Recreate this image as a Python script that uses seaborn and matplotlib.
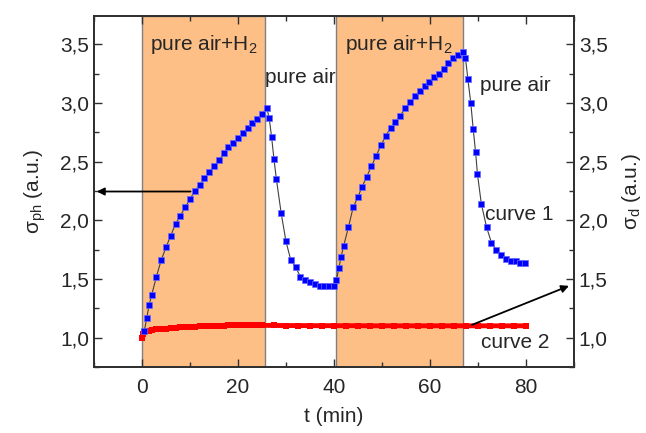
import matplotlib
matplotlib.use('Agg')
import matplotlib.pyplot as plt
import seaborn as sns
import pandas as pd
from matplotlib.ticker import MultipleLocator, FuncFormatter

# photoconductivity (curve 1)
t_ph = [0.5, 1, 1.5, 2, 3, 4, 5, 6, 7, 8, 9, 10, 11, 12, 13, 14, 15, 16, 17, 18,
        19, 20, 21, 22, 23, 24, 25, 26, 26.5, 27, 27.5, 28, 29, 30, 31, 32, 33, 34,
        35, 36, 37, 38, 39, 40, 40.5, 41, 41.5, 42, 43, 44, 45, 45.8, 46.8, 47.8,
        48.8, 49.8, 50.8, 51.8, 52.8, 53.8, 54.9, 55.9, 56.9, 57.9, 58.9, 59.9,
        60.9, 61.9, 62.9, 63.8, 64.9, 65.8, 66.8, 67.4, 67.9, 68.5, 69.0, 69.5,
        69.9, 70.7, 71.8, 72.8, 73.8, 74.9, 75.9, 76.9, 77.9, 78.8, 79.8]
s_ph = [1.06, 1.17, 1.28, 1.36, 1.52, 1.66, 1.77, 1.87, 1.97, 2.04, 2.11, 2.18,
        2.25, 2.30, 2.36, 2.41, 2.46, 2.51, 2.57, 2.62, 2.66, 2.70, 2.74, 2.79,
        2.83, 2.86, 2.905, 2.96, 2.87, 2.71, 2.52, 2.35, 2.06, 1.82, 1.66, 1.60,
        1.52, 1.49, 1.47, 1.46, 1.44, 1.44, 1.44, 1.44, 1.49, 1.59, 1.69, 1.78,
        1.94, 2.11, 2.20, 2.28, 2.37, 2.46, 2.55, 2.64, 2.72, 2.79, 2.84, 2.89,
        2.96, 3.01, 3.06, 3.10, 3.14, 3.18, 3.22, 3.25, 3.29, 3.34, 3.38, 3.41,
        3.43, 3.38, 3.20, 3.00, 2.78, 2.58, 2.39, 2.14, 1.94, 1.81, 1.75, 1.70,
        1.67, 1.65, 1.65, 1.635, 1.635]

# dark conductivity (curve 2)
t_d = [0, 0.25, 0.5, 1, 1.5, 2, 3, 4, 5, 6, 7, 8, 9, 10, 11, 12, 13, 14, 15, 16,
       17, 18, 19, 20, 21, 22, 23, 24, 25, 27.5, 30, 32.5, 35, 37.5, 40, 42.5,
       45, 47.5, 50, 52.5, 55, 57.5, 60, 62.5, 65, 67.5, 70, 72.5, 75, 77.5, 80]
s_d = [1.00, 1.03, 1.045, 1.055, 1.06, 1.065, 1.07, 1.075, 1.078, 1.082, 1.085,
       1.088, 1.09, 1.092, 1.094, 1.096, 1.098, 1.10, 1.101, 1.102, 1.103, 1.104,
       1.105, 1.106, 1.107, 1.107, 1.106, 1.106, 1.105, 1.104, 1.103, 1.103,
       1.102, 1.102, 1.102, 1.102, 1.102, 1.101, 1.101, 1.101, 1.101, 1.101,
       1.101, 1.101, 1.101, 1.101, 1.101, 1.101, 1.101, 1.101, 1.101]

# hydrogen exposure intervals (min)
h2_start = [0, 40.5]
h2_end = [25.7, 66.9]

df_ph = pd.DataFrame({'t': t_ph, 's': s_ph})
df_d = pd.DataFrame({'t': t_d, 's': s_d})

sns.set_style('ticks')
plt.rcParams['font.family'] = ['Liberation Sans', 'DejaVu Sans']
plt.rcParams['mathtext.fontset'] = 'custom'
plt.rcParams['mathtext.rm'] = 'Liberation Sans'
plt.rcParams['mathtext.it'] = 'Liberation Sans:italic'
plt.rcParams['axes.edgecolor'] = '#303030'
plt.rcParams['axes.linewidth'] = 1.3

FS = 15

fig = plt.figure(figsize=(6.46, 4.33), dpi=100)
ax = fig.add_axes([0.1455, 0.1524, 0.743, 0.8106])

for a, b in zip(h2_start, h2_end):
    ax.axvspan(a, b, facecolor='#fdbf86', edgecolor='#808080', lw=1.0, zorder=0)

sns.lineplot(data=df_d, x='t', y='s', ax=ax, color='red', lw=3.5, marker='s',
             markersize=4, markeredgewidth=0, sort=False, zorder=3)
sns.lineplot(data=df_ph, x='t', y='s', ax=ax, color='#404040', lw=0.8, marker='s',
             markersize=4.2, markerfacecolor='blue', markeredgecolor='#6a6aff',
             markeredgewidth=0.5, sort=False, zorder=4)

ax.set_xlim(-10, 90)
ax.set_ylim(0.75, 3.74)
fmt = FuncFormatter(lambda v, p: ('%.1f' % v).replace('.', ','))
ax.xaxis.set_major_locator(MultipleLocator(20))
ax.xaxis.set_minor_locator(MultipleLocator(10))
ax.yaxis.set_major_locator(MultipleLocator(0.5))
ax.yaxis.set_minor_locator(MultipleLocator(0.25))
ax.yaxis.set_major_formatter(fmt)
ax.tick_params(which='both', direction='in', top=True, labelsize=FS,
               color='#303030', width=1.0)
ax.tick_params(which='major', length=6)
ax.tick_params(which='minor', length=3.5)
ax.tick_params(axis='x', pad=8)
ax.set_xlabel('t (min)', fontsize=FS, labelpad=7)
ax.set_ylabel(r'σ$_{\mathrm{ph}}$ (a.u.)', fontsize=FS, labelpad=9)

ax2 = ax.twinx()
ax2.set_ylim(ax.get_ylim())
ax2.yaxis.set_major_locator(MultipleLocator(0.5))
ax2.yaxis.set_minor_locator(MultipleLocator(0.25))
ax2.yaxis.set_major_formatter(fmt)
ax2.tick_params(which='both', direction='in', labelsize=FS, color='#303030', width=1.0)
ax2.tick_params(which='major', length=6)
ax2.tick_params(which='minor', length=3.5)
ax2.set_ylabel(r'σ$_{\mathrm{d}}$ (a.u.)', fontsize=FS, labelpad=9)

ax.text(12.8, 3.5, r'pure air+H$_2$', fontsize=FS, ha='center', va='center')
ax.text(53.6, 3.5, r'pure air+H$_2$', fontsize=FS, ha='center', va='center')
ax.text(32.9, 3.22, 'pure air', fontsize=FS, ha='center', va='center')
ax.text(77.8, 3.15, 'pure air', fontsize=FS, ha='center', va='center')
ax.text(78.6, 2.05, 'curve 1', fontsize=FS, ha='center', va='center')
ax.text(77.8, 0.96, 'curve 2', fontsize=FS, ha='center', va='center')

arrow = dict(arrowstyle='-|>', color='black', lw=1.3, mutation_scale=11)
ax.annotate('', xy=(-10, 2.245), xytext=(10.7, 2.245), arrowprops=arrow)
ax.annotate('', xy=(89.5, 1.45), xytext=(68.2, 1.10), arrowprops=arrow)

fig.savefig('out.png', dpi=100)
